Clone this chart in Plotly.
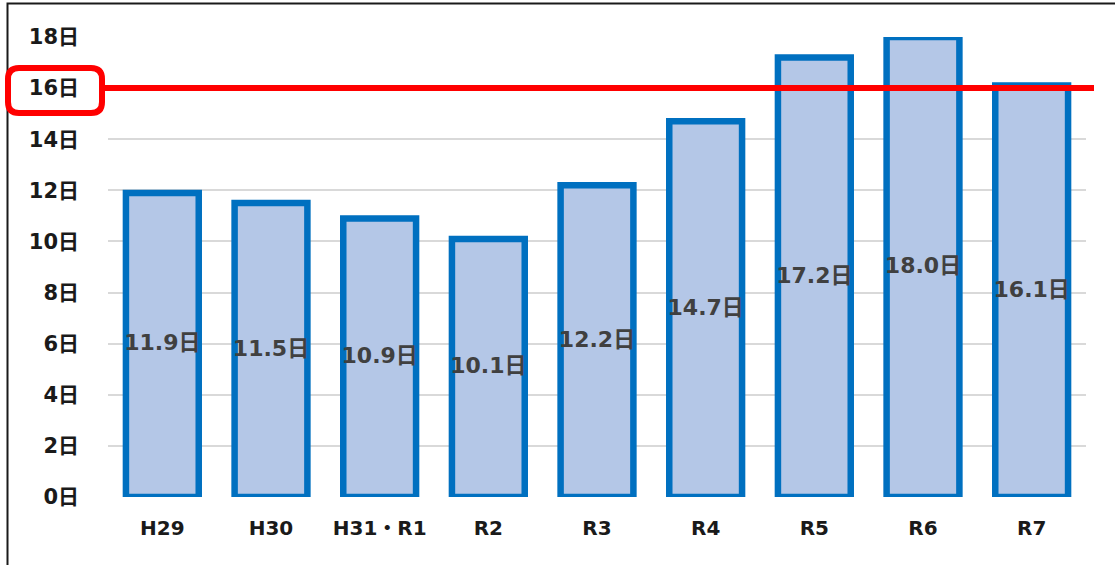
import plotly.graph_objects as go

categories = ["H29", "H30", "H31・R1", "R2", "R3", "R4", "R5", "R6", "R7"]
days = [11.9, 11.5, 10.9, 10.1, 12.2, 14.7, 17.2, 18.0, 16.1]
y_ticks = [0, 2, 4, 6, 8, 10, 12, 14, 16, 18]
y_tick_labels = [f"{v}日" for v in y_ticks]
target = 16

FONT = "DejaVu Sans, Verdana, Noto Sans CJK JP, sans-serif"

fig = go.Figure()
fig.add_trace(go.Bar(
    x=categories, y=days,
    marker=dict(color="#B4C7E7", line=dict(color="#0070C0", width=6.5)),
    width=0.67, cliponaxis=False, hoverinfo="skip",
))
fig.add_trace(go.Scatter(
    x=categories, y=[v / 2 for v in days], mode="text",
    text=[f"{v:.1f}日" for v in days],
    textfont=dict(family=FONT, size=22, color="#404040", weight="bold"),
    hoverinfo="skip",
))

W, H = 1115, 565
PL, PR, PT, PB = 108, 1086, 37, 497  # plot area in page pixels
L, T = PL, PT
R, B = W - PR, H - PB
pw, ph = PR - PL, PB - PT

def px(x):
    return (x - PL) / pw

def py(y):
    return (PB - y) / ph

# outer frame
fig.add_shape(type="rect", xref="paper", yref="paper",
              x0=px(7.5), x1=px(1130), y0=py(3.5), y1=py(580),
              line=dict(color="#1a1a1a", width=2), layer="below")
# red target line
fig.add_shape(type="line", xref="paper", yref="y",
              x0=px(104), x1=px(1094), y0=target, y1=target,
              line=dict(color="#FF0000", width=6))
# rounded red rectangle around 16日 tick
x0, x1, y0, y1 = px(8), px(102), py(113), py(68)
rx, ry = 11 / pw, 11 / ph
path = (f"M {x0+rx},{y1} L {x1-rx},{y1} Q {x1},{y1} {x1},{y1-ry} "
        f"L {x1},{y0+ry} Q {x1},{y0} {x1-rx},{y0} L {x0+rx},{y0} "
        f"Q {x0},{y0} {x0},{y0+ry} L {x0},{y1-ry} Q {x0},{y1} {x0+rx},{y1} Z")
fig.add_shape(type="path", xref="paper", yref="paper", path=path,
              line=dict(color="#FF0000", width=6))

fig.update_layout(
    width=W, height=H,
    margin=dict(l=L, r=R, t=T, b=B),
    plot_bgcolor="white", paper_bgcolor="white",
    showlegend=False,
    font=dict(family=FONT),
)
fig.update_xaxes(
    showgrid=False, showline=False, zeroline=False,
    tickfont=dict(family=FONT, size=20, color="#1a1a1a", weight="bold"),
    ticklabelstandoff=17,
)
fig.update_yaxes(
    range=[0, 18], tickvals=y_ticks, ticktext=y_tick_labels,
    showgrid=True, gridcolor="#D9D9D9", gridwidth=2,
    zeroline=False, showline=False,
    tickfont=dict(family=FONT, size=21, color="#1a1a1a", weight="bold"),
    ticklabelstandoff=28,
)

fig.write_html(
    "out.html",
    config={"displayModeBar": False},
    post_script="document.body.style.margin='0';document.body.style.overflow='hidden';",
)
